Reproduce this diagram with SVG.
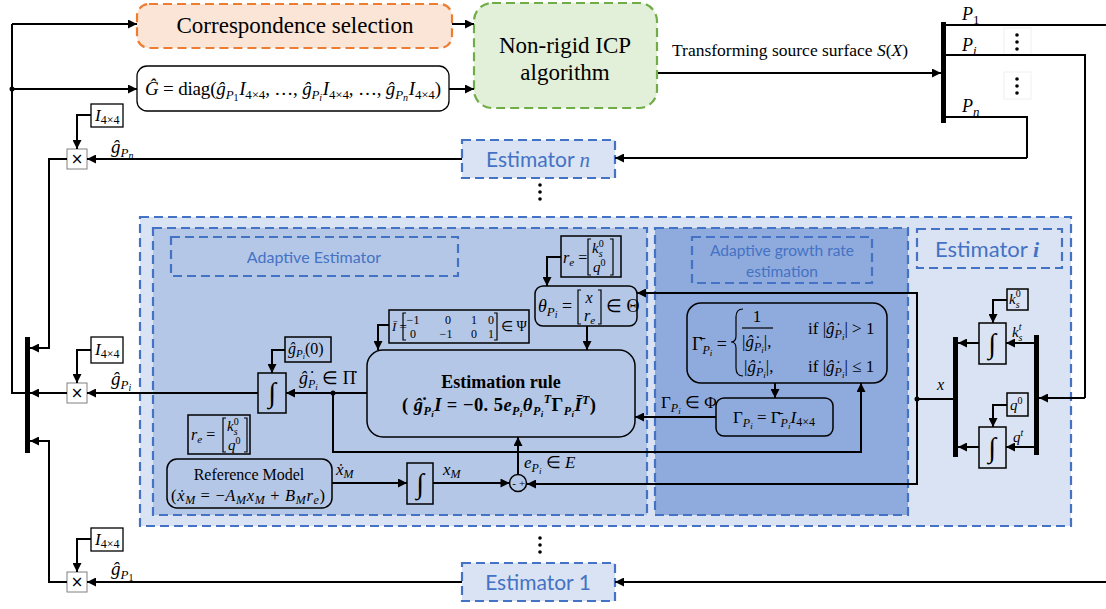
<svg xmlns="http://www.w3.org/2000/svg" width="1106" height="609" viewBox="0 0 1106 609">
<defs>
<marker id="ah" viewBox="0 0 10 10" refX="10" refY="5" markerWidth="11" markerHeight="9" markerUnits="userSpaceOnUse" orient="auto"><path d="M0,0L10,5L0,10z" fill="#000"/></marker>
<style>
.ln{fill:none;stroke:#000;stroke-width:2}
.ar{fill:none;stroke:#000;stroke-width:2;marker-end:url(#ah)}
.bx{fill:none;stroke:#000;stroke-width:1.5}
.wb{fill:#fff;stroke:#000;stroke-width:1.3}
.xb{fill:#fff;stroke:#808080;stroke-width:1}
.br{fill:none;stroke:#000;stroke-width:1.2}
.ds{stroke:#4472c4;stroke-width:2.2;stroke-dasharray:9 5}
.t{font-family:"Liberation Serif",serif;fill:#000}
.i{font-style:italic}
.n{font-style:normal}
.lb{font-family:Lato,"Open Sans",sans-serif;fill:#4472c4}
.x{font-family:"DejaVu Sans",sans-serif;font-size:15px;fill:#000}
.ig{font-family:"Liberation Serif",serif;font-style:italic;font-size:28px;fill:#000}
</style>
</defs>
<rect x="0" y="0" width="1106" height="609" fill="#fff"/>

<g id="regions">
<rect x="140" y="217" width="931" height="309" fill="#dae3f3" class="ds"/>
<rect x="153" y="228" width="494" height="287" fill="#b4c7e7" class="ds"/>
<rect x="655" y="228" width="253" height="287" fill="#8faadc" class="ds"/>
<rect x="171" y="237" width="287" height="39" fill="none" class="ds"/>
<text class="lb" x="314" y="263" font-size="16" text-anchor="middle">Adaptive Estimator</text>
<rect x="692" y="237" width="180" height="46" fill="none" class="ds"/>
<text class="lb" x="782" y="256" font-size="15.5" text-anchor="middle">Adaptive growth rate</text>
<text class="lb" x="782" y="277" font-size="15.5" text-anchor="middle">estimation</text>
<rect x="917" y="229" width="145" height="39" fill="none" class="ds"/>
<text class="lb" x="987" y="257" font-size="22" text-anchor="middle">Estimator <tspan font-family="Liberation Serif" font-weight="bold" font-style="italic">i</tspan></text>
</g>

<g id="correspondence">
<rect x="137" y="4" width="315" height="44" rx="12" fill="#fbe5d6" stroke="#ed7d31" stroke-width="2.2" stroke-dasharray="9 5"/>
<text class="t" x="295" y="33" font-size="23" text-anchor="middle">Correspondence selection</text>
</g>

<g id="gmatrix">
<rect x="137" y="66" width="312" height="45" rx="10" class="wb"/>
<text class="t" x="145" y="95" font-size="19" textLength="296" lengthAdjust="spacing"><tspan class="i">Ĝ</tspan> = diag(<tspan class="i">ĝ</tspan><tspan class="i" font-size="13" dy="4">P</tspan><tspan font-size="10" dy="2">1</tspan><tspan class="i" dy="-6" dx="1">I</tspan><tspan font-size="13" dy="4">4×4</tspan><tspan dy="-4">, …, </tspan><tspan class="i">ĝ</tspan><tspan class="i" font-size="13" dy="4">P</tspan><tspan class="i" font-size="10" dy="2">i</tspan><tspan class="i" dy="-6" dx="1">I</tspan><tspan font-size="13" dy="4">4×4</tspan><tspan dy="-4">, …, </tspan><tspan class="i">ĝ</tspan><tspan class="i" font-size="13" dy="4">P</tspan><tspan class="i" font-size="10" dy="2">n</tspan><tspan class="i" dy="-6" dx="1">I</tspan><tspan font-size="13" dy="4">4×4</tspan><tspan dy="-4">)</tspan></text>
</g>

<g id="icp">
<rect x="474" y="3" width="183" height="105" rx="18" fill="#e2f0d9" stroke="#70ad47" stroke-width="2.2" stroke-dasharray="9 5"/>
<text class="t" x="565" y="53" font-size="23" text-anchor="middle">Non-rigid ICP</text>
<text class="t" x="565" y="80" font-size="23" text-anchor="middle">algorithm</text>
</g>

<g id="topbus">
<rect x="941" y="22" width="5" height="101" fill="#000"/>
<text class="t i" x="962" y="20" font-size="18">P<tspan class="n" font-size="13" dy="4">1</tspan></text>
<text class="t i" x="962" y="51" font-size="18">P<tspan font-size="13" dy="4">i</tspan></text>
<text class="t i" x="962" y="112" font-size="18">P<tspan font-size="13" dy="4">n</tspan></text>
<rect x="1004" y="28" width="27" height="27" fill="#fff" stroke="#f0f0f0"/>
<circle cx="1017" cy="35" r="1.8"/><circle cx="1017" cy="42" r="1.8"/><circle cx="1017" cy="49" r="1.8"/>
<rect x="1004" y="72" width="27" height="27" fill="#fff" stroke="#f0f0f0"/>
<circle cx="1017" cy="79" r="1.8"/><circle cx="1017" cy="86" r="1.8"/><circle cx="1017" cy="93" r="1.8"/>
</g>

<g id="estimator-n">
<rect x="462" y="140" width="153" height="38" fill="#dae3f3" class="ds"/>
<text class="lb" x="538" y="167" font-size="21" text-anchor="middle">Estimator <tspan font-family="Liberation Serif" font-style="italic">n</tspan></text>
</g>
<g id="estimator-1">
<rect x="462" y="563" width="153" height="38" fill="#dae3f3" class="ds"/>
<text class="lb" x="538" y="590" font-size="21" text-anchor="middle">Estimator 1</text>
</g>

<g id="dots">
<circle cx="540" cy="185" r="1.8"/><circle cx="540" cy="192" r="1.8"/><circle cx="540" cy="199" r="1.8"/>
<circle cx="540" cy="538" r="1.8"/><circle cx="540" cy="545" r="1.8"/><circle cx="540" cy="552" r="1.8"/>
</g>

<g id="mult-n">
<rect x="91" y="104" width="32" height="23" class="wb"/>
<text class="t i" x="95" y="121" font-size="17">I<tspan class="n" font-size="12" dy="3">4×4</tspan></text>
<rect x="67" y="149" width="20" height="20" class="xb"/>
<text class="x" x="77" y="164" text-anchor="middle">×</text>
<text class="t i" x="111" y="153" font-size="19">ĝ<tspan font-size="13" dy="4">P</tspan><tspan font-size="10" dy="2">n</tspan></text>
</g>
<g id="mult-i">
<rect x="91" y="337" width="32" height="26" class="wb"/>
<text class="t i" x="95" y="355" font-size="17">I<tspan class="n" font-size="12" dy="3">4×4</tspan></text>
<rect x="67" y="383" width="20" height="20" class="xb"/>
<text class="x" x="77" y="398" text-anchor="middle">×</text>
<text class="t i" x="111" y="385" font-size="19">ĝ<tspan font-size="13" dy="4">P</tspan><tspan font-size="10" dy="2">i</tspan></text>
</g>
<g id="mult-1">
<rect x="91" y="528" width="32" height="23" class="wb"/>
<text class="t i" x="95" y="545" font-size="17">I<tspan class="n" font-size="12" dy="3">4×4</tspan></text>
<rect x="67" y="572" width="20" height="20" class="xb"/>
<text class="x" x="77" y="587" text-anchor="middle">×</text>
<text class="t i" x="111" y="575" font-size="19">ĝ<tspan font-size="13" dy="4">P</tspan><tspan class="n" font-size="10" dy="2">1</tspan></text>
</g>

<g id="leftbus"><rect x="25" y="337" width="5" height="116" fill="#000"/></g>

<g id="integrator-g">
<rect x="285" y="337" width="46" height="25" class="bx"/>
<text class="t i" x="288" y="354" font-size="16">ĝ<tspan font-size="11" dy="3">P</tspan><tspan font-size="8" dy="2">i</tspan><tspan class="n" dy="-5">(0)</tspan></text>
<rect x="258" y="373" width="28" height="40" class="bx"/>
<text class="ig" x="272" y="402" text-anchor="middle">∫</text>
<text class="t i" x="299" y="384" font-size="18">ĝ̇<tspan font-size="12" dy="4">P</tspan><tspan font-size="9" dy="2">i</tspan><tspan class="n" dy="-6"> ∈ Π̇</tspan></text>
</g>

<g id="re-top">
<rect x="561" y="236" width="60" height="41" class="bx"/>
<text class="t i" x="563" y="263" font-size="16">r<tspan font-size="11" dy="3">e</tspan><tspan class="n" dy="-3"> =</tspan></text>
<path class="br" d="M591,239H588V275H591M610,239H613V275H610"/>
<text class="t i" x="592" y="253" font-size="15">k<tspan class="n" font-size="10" dy="-6">0</tspan><tspan font-size="10" dx="-5" dy="10">s</tspan></text>
<text class="t i" x="593" y="272" font-size="15">q<tspan class="n" font-size="10" dy="-6">0</tspan></text>
</g>

<g id="theta">
<rect x="535" y="286" width="102" height="40" rx="8" class="bx"/>
<text class="t i" x="538" y="312" font-size="18">θ<tspan font-size="13" dy="4">P</tspan><tspan font-size="10" dy="2">i</tspan><tspan class="n" dy="-6"> =</tspan></text>
<path class="br" d="M581,290H578V324H581M598,290H601V324H598"/>
<text class="t i" x="589" y="303" font-size="16" text-anchor="middle">x</text>
<text class="t i" x="584" y="321" font-size="16">r<tspan font-size="11" dy="3">e</tspan></text>
<text class="t" x="606" y="312" font-size="18">∈ Θ</text>
</g>

<g id="ibar">
<rect x="389" y="310" width="140" height="33" class="bx"/>
<text class="t i" x="392" y="331" font-size="13">Ī<tspan class="n"> =</tspan></text>
<path class="br" d="M406,313H403V340H406M494,313H497V340H494"/>
<g class="t" font-size="12" text-anchor="middle">
<text x="413" y="324">−1</text><text x="448" y="324">0</text><text x="474" y="324">1</text><text x="491" y="324">0</text>
<text x="413" y="338">0</text><text x="446" y="338">−1</text><text x="474" y="338">0</text><text x="491" y="338">1</text>
</g>
<text class="t" x="501" y="331" font-size="14">∈ Ψ</text>
</g>

<g id="estimation-rule">
<rect x="367" y="350" width="268" height="87" rx="16" class="bx"/>
<text class="t" x="501" y="388" font-size="18" font-weight="bold" text-anchor="middle">Estimation rule</text>
<text class="t i" x="402" y="411" font-size="18.5" font-weight="bold" textLength="194" lengthAdjust="spacing"><tspan class="n">( </tspan>ĝ̇<tspan font-size="12" dy="4">P</tspan><tspan font-size="9" dy="2">i</tspan><tspan dy="-6">I</tspan><tspan class="n"> = −0. 5</tspan>e<tspan font-size="12" dy="4">P</tspan><tspan font-size="9" dy="2">i</tspan><tspan dy="-6">θ</tspan><tspan font-size="12" dy="4">P</tspan><tspan font-size="9" dy="2">i</tspan><tspan font-size="12" dy="-14">T</tspan><tspan class="n" dy="8">Γ</tspan><tspan font-size="12" dy="4">P</tspan><tspan font-size="9" dy="2">i</tspan><tspan dy="-6">Ī</tspan><tspan font-size="12" dy="-7">T</tspan><tspan class="n" dy="7">)</tspan></text>
</g>

<g id="gamma-bar">
<rect x="687" y="303" width="200" height="80" rx="14" class="bx"/>
<text class="t" x="692" y="350" font-size="18">Γ̄<tspan class="i" font-size="12" dy="4">P</tspan><tspan class="i" font-size="9" dy="2">i</tspan><tspan dy="-6"> =</tspan></text>
<path class="br" d="M743,309Q736,309 736,317V336Q736,342 731,342Q736,342 736,348V368Q736,376 743,376"/>
<text class="t" x="757" y="322" font-size="17" text-anchor="middle">1</text>
<line x1="742" y1="328" x2="773" y2="328" stroke="#000" stroke-width="1.2"/>
<text class="t i" x="742" y="347" font-size="17"><tspan class="n">|</tspan>ĝ̇<tspan font-size="12" dy="4">P</tspan><tspan font-size="9" dy="2">i</tspan><tspan class="n" dy="-6">|,</tspan></text>
<text class="t" x="808" y="334" font-size="17">if |<tspan class="i">ĝ̇</tspan><tspan class="i" font-size="12" dy="4">P</tspan><tspan class="i" font-size="9" dy="2">i</tspan><tspan dy="-6">| &gt; 1</tspan></text>
<text class="t i" x="744" y="372" font-size="17"><tspan class="n">|</tspan>ĝ̇<tspan font-size="12" dy="4">P</tspan><tspan font-size="9" dy="2">i</tspan><tspan class="n" dy="-6">|,</tspan></text>
<text class="t" x="808" y="372" font-size="17">if |<tspan class="i">ĝ̇</tspan><tspan class="i" font-size="12" dy="4">P</tspan><tspan class="i" font-size="9" dy="2">i</tspan><tspan dy="-6">| ≤ 1</tspan></text>
</g>

<g id="gamma">
<rect x="716" y="398" width="117" height="38" rx="8" class="bx"/>
<text class="t" x="733" y="423" font-size="17">Γ<tspan class="i" font-size="12" dy="4">P</tspan><tspan class="i" font-size="9" dy="2">i</tspan><tspan dy="-6"> = Γ̄</tspan><tspan class="i" font-size="12" dy="4">P</tspan><tspan class="i" font-size="9" dy="2">i</tspan><tspan class="i" dy="-6">I</tspan><tspan font-size="12" dy="3">4×4</tspan></text>
<text class="t" x="661" y="408" font-size="17">Γ<tspan class="i" font-size="12" dy="4">P</tspan><tspan class="i" font-size="9" dy="2">i</tspan><tspan dy="-6"> ∈ Φ</tspan></text>
</g>

<g id="re-bottom">
<rect x="188" y="415" width="62" height="39" class="bx"/>
<text class="t i" x="191" y="440" font-size="16">r<tspan font-size="11" dy="3">e</tspan><tspan class="n" dy="-3"> =</tspan></text>
<path class="br" d="M226,418H223V452H226M244,418H247V452H244"/>
<text class="t i" x="227" y="431" font-size="15">k<tspan class="n" font-size="10" dy="-6">0</tspan><tspan font-size="10" dx="-5" dy="10">s</tspan></text>
<text class="t i" x="228" y="450" font-size="15">q<tspan class="n" font-size="10" dy="-6">0</tspan></text>
</g>

<g id="reference-model">
<rect x="167" y="459" width="165" height="49" rx="10" class="bx"/>
<text class="t" x="249" y="480" font-size="16" text-anchor="middle">Reference Model</text>
<text class="t i" x="171" y="501" font-size="16.5" textLength="154" lengthAdjust="spacing"><tspan class="n">(</tspan>ẋ<tspan font-size="12" dy="3">M</tspan><tspan class="n" dy="-3"> = −</tspan>A<tspan font-size="12" dy="3">M</tspan><tspan dy="-3">x</tspan><tspan font-size="12" dy="3">M</tspan><tspan class="n" dy="-3"> + </tspan>B<tspan font-size="12" dy="3">M</tspan><tspan dy="-3">r</tspan><tspan font-size="12" dy="3">e</tspan><tspan class="n" dy="-3">)</tspan></text>
<text class="t i" x="336" y="475" font-size="17">ẋ<tspan font-size="12" dy="3">M</tspan></text>
</g>

<g id="integrator-x">
<rect x="407" y="463" width="26" height="41" class="bx"/>
<text class="ig" x="420" y="493" text-anchor="middle">∫</text>
<text class="t i" x="443" y="475" font-size="17">x<tspan font-size="12" dy="3">M</tspan></text>
</g>

<g id="sum">
<circle cx="518" cy="483" r="8.5" fill="none" stroke="#000" stroke-width="1.5"/>
<text class="t" x="514" y="487" font-size="11" text-anchor="middle">-</text>
<text class="t" x="522" y="487" font-size="11" text-anchor="middle">+</text>
<text class="t i" x="524" y="468" font-size="17">e<tspan font-size="12" dy="4">P</tspan><tspan font-size="9" dy="2">i</tspan><tspan class="n" dy="-6"> ∈ </tspan>E</text>
</g>

<g id="state-integrators">
<rect x="953" y="337" width="5" height="120" fill="#000"/>
<rect x="1034" y="335" width="5" height="120" fill="#000"/>
<rect x="1007" y="289" width="21" height="21" class="bx"/>
<text class="t i" x="1009" y="304" font-size="15">k<tspan class="n" font-size="10" dy="-7">0</tspan><tspan font-size="10" dx="-5" dy="11">s</tspan></text>
<rect x="979" y="323" width="27" height="41" class="bx"/>
<text class="ig" x="992" y="353" text-anchor="middle">∫</text>
<text class="t i" x="1012" y="337" font-size="15">k<tspan font-size="10" dy="-7">t</tspan><tspan font-size="10" dx="-3" dy="11">s</tspan></text>
<rect x="1007" y="393" width="21" height="23" class="bx"/>
<text class="t i" x="1010" y="410" font-size="15">q<tspan class="n" font-size="10" dy="-6">0</tspan></text>
<rect x="979" y="427" width="27" height="41" class="bx"/>
<text class="ig" x="992" y="457" text-anchor="middle">∫</text>
<text class="t i" x="1013" y="442" font-size="15">q<tspan font-size="10" dy="-6">t</tspan></text>
<text class="t i" x="937" y="390" font-size="16">x</text>
</g>

<g id="transform-label">
<text class="t" x="672" y="56" font-size="17.5">Transforming source surface <tspan class="i">S</tspan>(<tspan class="i">X</tspan>)</text>
</g>

<g id="connectors">
<path class="ln" d="M30,393H12V24"/>
<path class="ar" d="M12,24H137"/>
<path class="ar" d="M12,89H137"/>
<circle cx="12" cy="89" r="2.5"/>
<path class="ar" d="M452,24H474"/>
<path class="ar" d="M449,89H474"/>
<path class="ar" d="M658,73H941"/>
<path class="ln" d="M946,25H1106"/>
<path class="ln" d="M946,55H1085V398"/>
<path class="ar" d="M1085,398H1039"/>
<path class="ln" d="M946,117H1027V158"/>
<path class="ar" d="M1027,158H615"/>
<path class="ar" d="M462,159H87"/>
<path class="ar" d="M91,115H77V149"/>
<path class="ar" d="M67,159H49V348H30"/>
<path class="ar" d="M1106,582H615"/>
<path class="ar" d="M462,582H87"/>
<path class="ar" d="M91,539H77V572"/>
<path class="ar" d="M67,582H49V441H30"/>
<path class="ar" d="M91,350H77V383"/>
<path class="ar" d="M67,393H30"/>
<path class="ar" d="M258,393H87"/>
<path class="ar" d="M285,350H272V373"/>
<path class="ar" d="M367,393H286"/>
<circle cx="333" cy="393" r="2.5"/>
<path class="ar" d="M333,393V452H861V383"/>
<path class="ar" d="M561,257H547V286"/>
<path class="ar" d="M389,325H378V350"/>
<path class="ar" d="M587,326V350"/>
<path class="ar" d="M917,399V293H637"/>
<path class="ar" d="M917,399V484H527"/>
<circle cx="917" cy="399" r="2.5"/>
<path class="ln" d="M953,399H917"/>
<path class="ar" d="M775,383V398"/>
<path class="ar" d="M716,417H635"/>
<path class="ar" d="M518,474V437"/>
<path class="ar" d="M332,483H407"/>
<path class="ar" d="M433,483H509.5"/>
<path class="ar" d="M1007,300H993V323"/>
<path class="ar" d="M1034,343H1006"/>
<path class="ar" d="M979,343H958"/>
<path class="ar" d="M1007,405H993V427"/>
<path class="ar" d="M1034,447H1006"/>
<path class="ar" d="M979,447H958"/>
</g>
</svg>
